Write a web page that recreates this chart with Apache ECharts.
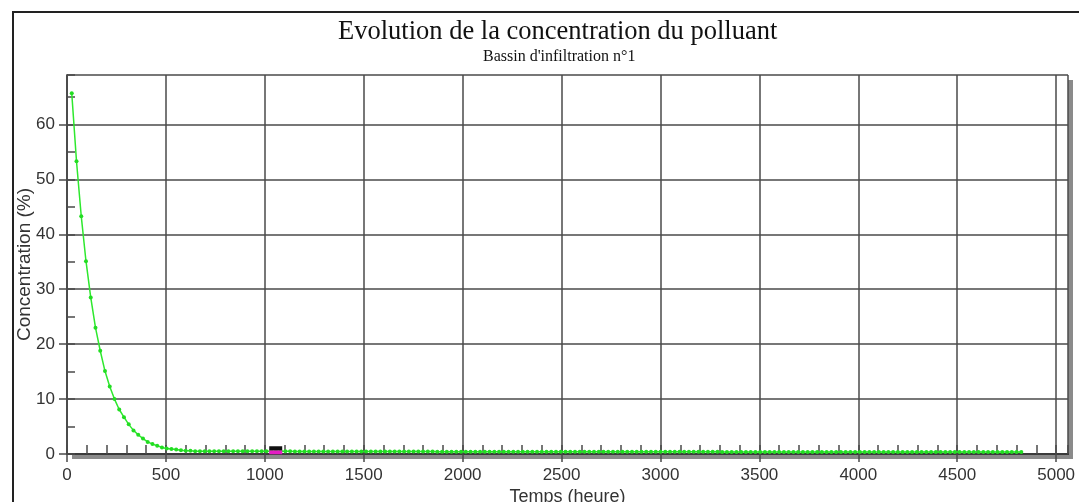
<!DOCTYPE html>
<html lang="fr">
<head>
    <meta charset="UTF-8">
    <title>Evolution de la concentration du polluant</title>
    <script src="https://cdn.jsdelivr.net/npm/echarts@6/dist/echarts.min.js"></script>
    <style>
        html, body { margin: 0; padding: 0; background: #fff; }
        #chart { width: 1079px; height: 502px; }
    </style>
</head>
<body>
    <div id="chart"></div>
    <script>
        // pas de temps entre deux points (heures)
        const firstHour = 24;
        const stepHours = 24;

        // concentration (%), un point par jour
        const decayValues = [
            65.7, 53.3, 43.3, 35.1, 28.5, 23.0, 18.8, 15.1, 12.3, 10.0,
            8.1, 6.7, 5.4, 4.3, 3.5, 2.8, 2.2, 1.8, 1.5, 1.2,
            1.0, 0.9, 0.8, 0.7, 0.6, 0.6, 0.5
        ];
        const tailValues = [
            0.5, 0.5, 0.5, 0.5, 0.5, 0.5, 0.5, 0.5, 0.5, 0.5,
            0.5, 0.5, 0.5, 0.5, 0.5, 0.5, 0.5, 0.5, 0.5, 0.5,
            0.45, 0.45, 0.45, 0.45, 0.45, 0.45, 0.45, 0.45, 0.45, 0.45,
            0.45, 0.45, 0.45, 0.45, 0.45, 0.45, 0.45, 0.45, 0.45, 0.45,
            0.45, 0.45, 0.45, 0.45, 0.45, 0.45, 0.45, 0.45, 0.45, 0.45,
            0.4, 0.4, 0.4, 0.4, 0.4, 0.4, 0.4, 0.4, 0.4, 0.4,
            0.4, 0.4, 0.4, 0.4, 0.4, 0.4, 0.4, 0.4, 0.4, 0.4,
            0.4, 0.4, 0.4, 0.4, 0.4, 0.4, 0.4, 0.4, 0.4, 0.4,
            0.4, 0.4, 0.4, 0.4, 0.4, 0.4, 0.4, 0.4, 0.4, 0.4,
            0.4, 0.4, 0.4, 0.4, 0.4, 0.4, 0.4, 0.4, 0.4, 0.4,
            0.4, 0.4, 0.4, 0.4, 0.4, 0.4, 0.4, 0.4, 0.4, 0.4,
            0.35, 0.35, 0.35, 0.35, 0.35, 0.35, 0.35, 0.35, 0.35, 0.35,
            0.35, 0.35, 0.35, 0.35, 0.35, 0.35, 0.35, 0.35, 0.35, 0.35,
            0.35, 0.35, 0.35, 0.35, 0.35, 0.35, 0.35, 0.35, 0.35, 0.35,
            0.35, 0.35, 0.35, 0.35, 0.35, 0.35, 0.35, 0.35, 0.35, 0.35,
            0.35, 0.35, 0.35, 0.35, 0.35, 0.35, 0.35, 0.35, 0.35, 0.35,
            0.35, 0.35, 0.35, 0.35, 0.35, 0.35, 0.35, 0.35, 0.35, 0.35,
            0.35, 0.35, 0.35, 0.35
        ];
        // petit repère noir/rose sur l'axe
        const cursorMark = [1055, 0.5];

        const concentration = decayValues.concat(tailValues);
        const seriesData = concentration.map((v, i) => [firstHour + i * stepHours, v]);

        const xMax = 5060;
        const yMax = 69;
        const gridColor = '#4a4a4a';
        const textColor = '#333';
        const sans = '"Liberation Sans", Arial, sans-serif';
        const serif = '"Liberation Serif", "Times New Roman", serif';

        const chart = echarts.init(document.getElementById('chart'));
        chart.setOption({
            animation: false,
            backgroundColor: '#fff',
            title: [
                {
                    text: 'Evolution de la concentration du polluant',
                    left: 333, top: 14,
                    textStyle: { fontFamily: serif, fontSize: 26.5, fontWeight: 'normal', color: '#111' }
                },
                {
                    text: "Bassin d'infiltration n°1",
                    left: 478, top: 44,
                    textStyle: { fontFamily: serif, fontSize: 16, fontWeight: 'normal', color: '#111' }
                }
            ],
            graphic: [
                {
                    type: 'rect', silent: true, z: 0,
                    shape: { x: 13, y: 12, width: 1200, height: 600 },
                    style: { fill: null, stroke: '#222', lineWidth: 2 }
                }
            ],
            grid: {
                left: 67, top: 75, right: 11, bottom: 48,
                outerBoundsMode: 'none',
                show: true,
                backgroundColor: '#fff',
                borderWidth: 0,
                shadowColor: '#8a8a8a',
                shadowOffsetX: 5,
                shadowOffsetY: 5,
                shadowBlur: 0
            },
            xAxis: [
                {
                    type: 'value', min: 0, max: xMax, interval: 500,
                    name: 'Temps (heure)', nameLocation: 'middle', nameGap: 34,
                    nameMoveOverlap: false,
                    nameTextStyle: { fontFamily: sans, fontSize: 18, color: textColor },
                    axisLine: { onZero: false, lineStyle: { color: '#111', width: 2 } },
                    axisTick: { show: true, length: 8, lineStyle: { color: gridColor, width: 1.5 } },
                    axisLabel: {
                        fontFamily: sans, fontSize: 17, color: textColor, margin: 13,
                        showMaxLabel: false, formatter: v => String(v)
                    },
                    splitLine: { show: true, lineStyle: { color: gridColor, width: 1.5 } }
                },
                {
                    // graduations secondaires (toutes les 100 h), vers l'intérieur
                    type: 'value', min: 0, max: xMax, interval: 100, position: 'bottom',
                    axisLine: { show: false, onZero: false },
                    axisTick: { show: true, inside: true, length: 9, lineStyle: { color: gridColor, width: 1.5 } },
                    axisLabel: { show: false },
                    splitLine: { show: false }
                },
                {
                    // bord supérieur du cadre
                    type: 'value', min: 0, max: xMax, position: 'top',
                    axisLine: { show: true, lineStyle: { color: gridColor, width: 1.5 } },
                    axisTick: { show: false },
                    axisLabel: { show: false },
                    splitLine: { show: false }
                }
            ],
            yAxis: [
                {
                    type: 'value', min: 0, max: yMax, interval: 10,
                    name: 'Concentration (%)', nameLocation: 'middle', nameGap: 33,
                    nameMoveOverlap: false,
                    nameTextStyle: { fontFamily: sans, fontSize: 19, color: textColor },
                    axisLine: { show: true, lineStyle: { color: gridColor, width: 1.5 } },
                    axisTick: { show: true, length: 8, lineStyle: { color: gridColor, width: 1.5 } },
                    axisLabel: {
                        fontFamily: sans, fontSize: 17, color: textColor, margin: 12,
                        showMaxLabel: false
                    },
                    splitLine: { show: true, lineStyle: { color: gridColor, width: 1.5 } }
                },
                {
                    // graduations secondaires (tous les 5 %)
                    type: 'value', min: 0, max: yMax, interval: 5, position: 'left',
                    axisLine: { show: false },
                    axisTick: { show: true, inside: true, length: 8, lineStyle: { color: gridColor, width: 1.5 } },
                    axisLabel: { show: false },
                    splitLine: { show: false }
                },
                {
                    // bord droit du cadre
                    type: 'value', min: 0, max: yMax, position: 'right',
                    axisLine: { show: true, lineStyle: { color: gridColor, width: 1.5 } },
                    axisTick: { show: false },
                    axisLabel: { show: false },
                    splitLine: { show: false }
                }
            ],
            series: [
                {
                    name: 'Concentration',
                    type: 'line',
                    xAxisIndex: 0,
                    yAxisIndex: 0,
                    data: seriesData,
                    symbol: 'circle',
                    symbolSize: 4,
                    showSymbol: true,
                    showAllSymbol: true,
                    lineStyle: { color: '#2ee82e', width: 1.5 },
                    itemStyle: { color: '#22dd22' },
                    z: 5,
                    markPoint: {
                        silent: true,
                        z: 20,
                        label: { show: false },
                        data: [
                            {
                                coord: cursorMark,
                                symbol: 'rect',
                                symbolSize: [13, 4],
                                symbolOffset: [0, 1],
                                itemStyle: { color: '#e41cc4' }
                            },
                            {
                                coord: cursorMark,
                                symbol: 'rect',
                                symbolSize: [13, 4],
                                symbolOffset: [0, -3],
                                itemStyle: { color: '#111' }
                            }
                        ]
                    }
                }
            ]
        });
    </script>
</body>
</html>
